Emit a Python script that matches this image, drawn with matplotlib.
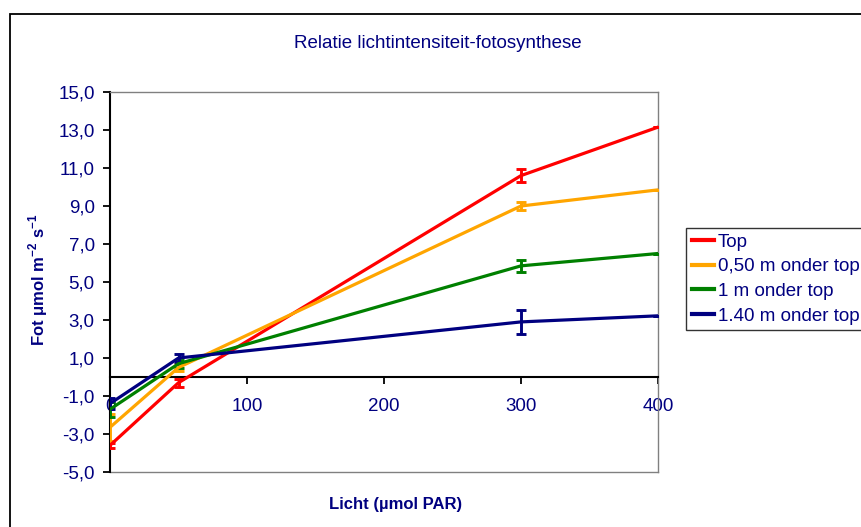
import matplotlib.pyplot as plt
from matplotlib.lines import Line2D
from matplotlib.patches import Rectangle

# lichtintensiteit (umol PAR)
licht = [0, 50, 300, 400]

# fotosynthese per hoogte, met foutmarges (geen foutmarge op 400)
top = [-3.6, -0.3, 10.6, 13.15]
top_err = [0.15, 0.2, 0.35, 0]
half_m = [-2.65, 0.5, 9.0, 9.85]
half_m_err = [0.7, 0.2, 0.2, 0]
een_m = [-1.7, 0.7, 5.85, 6.5]
een_m_err = [0.4, 0.2, 0.33, 0]
anderhalf_m = [-1.4, 1.0, 2.9, 3.22]
anderhalf_m_err = [0.3, 0.2, 0.62, 0]

series = [
    ('Top', top, top_err, '#ff0000'),
    ('0,50 m onder top', half_m, half_m_err, '#ffa500'),
    ('1 m onder top', een_m, een_m_err, '#008000'),
    ('1.40 m onder top', anderhalf_m, anderhalf_m_err, '#000080'),
]

y_ticks = [-5, -3, -1, 1, 3, 5, 7, 9, 11, 13, 15]
x_ticks = [0, 100, 200, 300, 400]

navy = '#000080'
fs = 13.5
fs_as = 12
plt.rcParams['font.family'] = ['Liberation Sans', 'DejaVu Sans']
plt.rcParams['mathtext.fontset'] = 'custom'
plt.rcParams['mathtext.rm'] = 'Liberation Sans'
plt.rcParams['mathtext.bf'] = 'Liberation Sans:bold'

fig = plt.figure(figsize=(8.61, 5.27), dpi=100, facecolor='white')
ax = fig.add_axes([110 / 861, 1 - 472 / 527, 548 / 861, 380 / 527])

# kader rond de hele grafiek
fig.patches.append(Rectangle((10 / 861, -0.1), 1.0, 1.1 - 14 / 527, transform=fig.transFigure,
                             fill=False, edgecolor='black', linewidth=1.3, clip_on=False))

for naam, waarden, fout, kleur in series:
    ax.errorbar(licht, waarden, yerr=fout, color=kleur, linewidth=2.3, elinewidth=2.1,
                capsize=3.5, capthick=2.1, zorder=3)

# x-as ligt op y = 0
ax.spines['bottom'].set_position(('data', 0))
ax.spines['bottom'].set_color('black')
ax.spines['bottom'].set_linewidth(1.5)
ax.spines['left'].set_color('black')
ax.spines['left'].set_linewidth(1.5)
for s in ['top', 'right']:
    ax.spines[s].set_color('#808080')
    ax.spines[s].set_linewidth(1.0)
ax.axhline(-5, color='#808080', linewidth=1.0, clip_on=False)

ax.set_xlim(0, 400)
ax.set_ylim(-5, 15)
ax.set_yticks(y_ticks)
ax.set_yticklabels([f'{t:.1f}'.replace('.', ',') for t in y_ticks])
ax.set_xticks(x_ticks)
ax.set_xticklabels([str(t) for t in x_ticks])
ax.tick_params(axis='both', direction='out', length=5, width=1.3, colors='black',
               labelsize=fs, labelcolor=navy)
ax.tick_params(axis='x', pad=10)
ax.tick_params(axis='y', pad=6)

fig.text(438 / 861, 1 - 43 / 527, 'Relatie lichtintensiteit-fotosynthese', color=navy,
         fontsize=fs, ha='center', va='center')
fig.text(396 / 861, 1 - 505 / 527, 'Licht (\u00b5mol PAR)', color=navy, fontsize=fs_as,
         fontweight='bold', ha='center', va='center')
fig.text(38 / 861, 1 - 280 / 527, r'Fot $\mathbf{\mu}$mol m$^{\mathbf{-2}}$ s$^{\mathbf{-1}}$',
         color=navy, fontsize=fs_as, fontweight='bold', rotation=90, ha='center', va='center')

handles = [Line2D([], [], color=kleur, linewidth=3) for _, _, _, kleur in series]
labels = [naam for naam, _, _, _ in series]
leg = fig.legend(handles, labels, loc='upper left', bbox_to_anchor=(686 / 861, 1 - 228 / 527),
                 frameon=True, fancybox=False, edgecolor='black', fontsize=fs,
                 handlelength=1.2, handletextpad=0.18, borderpad=0.3, labelspacing=0.4,
                 borderaxespad=0)
leg.get_frame().set_linewidth(1.0)
for t in leg.get_texts():
    t.set_color(navy)

fig.savefig('out.png', dpi=100)
